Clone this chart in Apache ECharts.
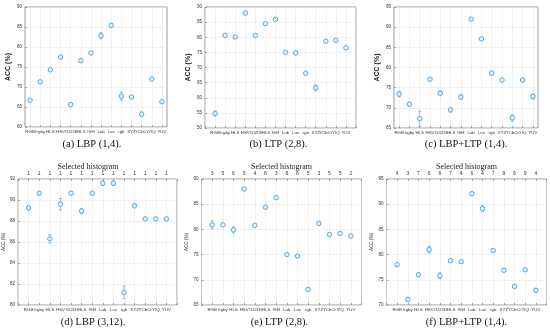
<!DOCTYPE html>
<html><head><meta charset="utf-8">
<script src="https://cdn.jsdelivr.net/npm/echarts@6/dist/echarts.min.js"></script>
<style>html,body{margin:0;padding:0;background:#fff}#c{width:550px;height:330px}</style>
</head><body><div id="c"></div>
<script>
var names = ['RGB','Irgby','HLS','HSV','I1I2I3','IHLS','ISH','Lab','Luv','rgb','XYZ','YCbCr','YIQ','YUV'];

var aMean = [66.7,71.3,74.3,77.5,65.6,76.6,78.5,82.8,85.4,67.7,67.5,63.2,72.0,66.3];
var aErr  = [0.3,0.3,0.3,0.4,0.3,0.4,0.2,0.8,0.3,1.0,0.2,0.6,0.4,0.3];
var bMean = [54.8,80.6,80.1,88.0,80.6,84.5,85.9,75.0,74.8,68.1,63.3,78.7,79.0,76.5];
var bErr  = [0.8,0.2,0.5,0.2,0.2,0.2,0.4,0.2,0.2,0.2,1.0,0.2,0.2,0.5];
var cMean = [73.4,70.9,67.3,77.1,73.6,69.5,72.7,92.0,87.1,78.6,76.9,67.5,76.9,72.8];
var cErr  = [0.7,0.5,1.9,0.2,0.6,0.5,0.6,0.2,0.2,0.4,0.2,0.8,0.4,0.6];
var dMean = [89.25,90.65,86.3,89.6,90.65,88.95,90.65,91.6,91.6,81.2,89.45,88.2,88.2,88.2];
var dErr  = [0.2,0.15,0.4,0.55,0.15,0.25,0.15,0.2,0.2,0.6,0.15,0.1,0.1,0.1];
var eMean = [80.9,80.9,79.9,88.0,80.8,84.4,86.3,75.0,74.7,68.1,81.2,79.0,79.2,78.7];
var eErr  = [0.8,0.2,0.6,0.1,0.1,0.1,0.1,0.1,0.1,0.1,0.2,0.1,0.1,0.1];
var fMean = [78.0,71.1,76.0,81.0,75.8,78.8,78.6,92.1,89.1,80.8,76.9,73.7,77.0,72.9];
var fErr  = [0.2,0.4,0.4,0.7,0.6,0.3,0.2,0.2,0.6,0.2,0.2,0.3,0.3,0.4];

var dTop = ['1','1','1','1','1','1','1','1','1','1','1','1','1','1'];
var eTop = ['3','5','6','6','4','6','3','6','6','5','3','5','5','2'];
var fTop = ['4','3','7','6','6','7','4','6','4','7','9','6','9','4'];

var captions = ['(a) LBP (1,4).','(b) LTP (2,8).','(c) LBP+LTP (1,4).','(d) LBP (3,12).','(e) LTP (2,8).','(f) LBP+LTP (1,4).'];

var panels = [
  {mean:aMean, err:aErr, min:60, max:90, step:5, half:true,  box:[25,7,142,120], big:true},
  {mean:bMean, err:bErr, min:50, max:90, step:5, half:false, box:[205,7,151,121], big:true},
  {mean:cMean, err:cErr, min:65, max:95, step:5, half:true,  box:[394,7,144,121], big:true},
  {mean:dMean, err:dErr, min:80, max:92, step:2, half:false, box:[17,179,160,126], top:dTop},
  {mean:eMean, err:eErr, min:65, max:90, step:5, half:false, box:[201.5,179,160,126], top:eTop},
  {mean:fMean, err:fErr, min:70, max:95, step:5, half:false, box:[386.5,179,160,126], top:fTop}
];

var BLUE = '#5aa8e0';
var grids = [], xAxes = [], yAxes = [], series = [], graphics = [];

panels.forEach(function(p, k){
  var cats = [], topCats = [], idx = [];
  if (p.half) {
    cats.push(''); topCats.push('');
    names.forEach(function(n,i){ cats.push(n); topCats.push(''); idx.push(cats.length-1); cats.push(''); topCats.push(''); });
  } else {
    cats.push(''); topCats.push('');
    names.forEach(function(n,i){ cats.push(n); topCats.push(p.top ? p.top[i] : ''); idx.push(cats.length-1); });
    cats.push(''); topCats.push('');
  }
  var showFn = p.half ? function(i){ return i % 2 === 1; } : function(i){ return true; };
  grids.push({left:p.box[0], top:p.box[1], width:p.box[2], height:p.box[3], show:true,
    borderColor:'#555', borderWidth:0.6, backgroundColor:'#fff', containLabel:false});
  var xi = xAxes.length;
  xAxes.push({type:'category', gridIndex:k, data:cats, boundaryGap:false, position:'bottom',
    axisLine:{show:false},
    axisTick:{show:true, inside:true, length:2, interval:showFn, lineStyle:{color:'#555', width:0.5}},
    axisLabel:{interval:showFn, fontSize:4.4, color:'#333', margin:3, fontFamily:'Liberation Sans'},
    splitLine:{show:true, interval:showFn, lineStyle:{color:'#e8e8e8', width:0.6}}
  });
  if (p.top) {
    xAxes.push({type:'category', gridIndex:k, data:topCats, boundaryGap:false, position:'top',
      axisLine:{show:false},
      axisTick:{show:true, inside:true, length:2, lineStyle:{color:'#555', width:0.5}},
      axisLabel:{interval:0, fontSize:5, color:'#333', margin:3, fontFamily:'Liberation Sans'},
      splitLine:{show:false}
    });
    graphics.push({type:'text', x:p.box[0]+p.box[2]/2 - (k===3?9:0), y:163, style:{text:'Selected histogram',
      font:'8px "Liberation Serif"', fill:'#222', textAlign:'center', textVerticalAlign:'top'}});
  }
  yAxes.push({type:'value', gridIndex:k, min:p.min, max:p.max, interval:p.step,
    name:'ACC (%)', nameLocation:'middle', nameRotate:90, nameGap: p.big ? 13 : 10,
    nameTextStyle:{fontSize: p.big ? 7 : 4.6, fontWeight: p.big ? 'bold' : 'normal', color:'#222', fontFamily:'Liberation Sans'},
    axisLine:{show:false},
    axisTick:{show:true, inside:true, length:2, lineStyle:{color:'#555', width:0.5}},
    axisLabel:{fontSize:4.6, color:'#333', margin:3, fontFamily:'Liberation Sans'},
    splitLine:{show:true, lineStyle:{color:'#e8e8e8', width:0.6}}
  });
  var errData = p.mean.map(function(m,i){ return [idx[i], m - p.err[i], m + p.err[i]]; });
  var ptData = p.mean.map(function(m,i){ return [idx[i], m]; });
  series.push({type:'custom', xAxisIndex:xi, yAxisIndex:k, data:errData, encode:{x:0, y:[1,2]},
    renderItem:function(params, api){
      var x = api.value(0);
      var a = api.coord([x, api.value(1)]), b = api.coord([x, api.value(2)]);
      var st = {stroke:BLUE, lineWidth:0.7};
      return {type:'group', children:[
        {type:'line', shape:{x1:a[0], y1:a[1], x2:b[0], y2:b[1]}, style:st},
        {type:'line', shape:{x1:a[0]-1.5, y1:a[1], x2:a[0]+1.5, y2:a[1]}, style:st},
        {type:'line', shape:{x1:b[0]-1.5, y1:b[1], x2:b[0]+1.5, y2:b[1]}, style:st}
      ]};
    }, z:3});
  series.push({type:'scatter', xAxisIndex:xi, yAxisIndex:k, data:ptData, symbol:'circle', symbolSize:4.5,
    itemStyle:{color:'#e2f0fa', borderColor:BLUE, borderWidth:1, opacity:1}, z:4});
  graphics.push({type:'text', x:p.box[0]+p.box[2]/2 - (k===0||k===3?4:0) + (k===1||k===4?-2:0), y:(k<3?139:317),
    style:{text:captions[k], font:'10.5px "Liberation Serif"', fill:'#111', textAlign:'center', textVerticalAlign:'top'}});
});

var chart = echarts.init(document.getElementById('c'), null, {renderer:'canvas'});
chart.setOption({animation:false, grid:grids, xAxis:xAxes, yAxis:yAxes, series:series, graphic:graphics});
</script></body></html>
